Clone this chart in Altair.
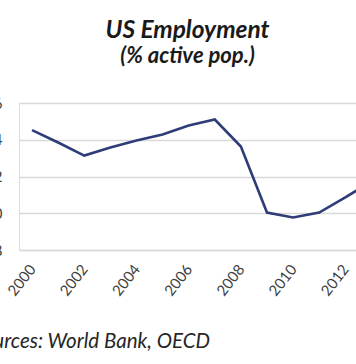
import altair as alt
import pandas as pd

years = [2000, 2001, 2002, 2003, 2004, 2005, 2006, 2007, 2008, 2009, 2010, 2011, 2012, 2013]
employment = [94.52, 93.85, 93.14, 93.58, 93.96, 94.29, 94.78, 95.10, 93.63, 90.04, 89.77, 90.04, 90.86, 91.73]
y_ticks = [88, 90, 92, 94, 96]
x_ticks = [2000, 2002, 2004, 2006, 2008, 2010, 2012]
source_text = ["Sources: World Bank, OECD"]

df = pd.DataFrame({"year": years, "value": employment})
src = pd.DataFrame({"label": source_text})

W, H = 337, 147
FONT = "Lato"
GRID = "#d9d9d9"

line = alt.Chart(df).mark_line(color="#2e3d78", strokeWidth=2.6, clip=True).encode(
    x=alt.X("year:Q",
            scale=alt.Scale(domain=[1999.5, 2012.41], nice=False, zero=False),
            axis=alt.Axis(values=x_ticks, format="d", title=None, grid=False,
                          ticks=False, domain=True, domainColor=GRID, domainWidth=1.5,
                          labelAngle=-52, labelFont=FONT, labelFontSize=15,
                          labelColor="#404040", labelPadding=16)),
    y=alt.Y("value:Q",
            scale=alt.Scale(domain=[88, 96], nice=False, zero=False),
            axis=alt.Axis(values=y_ticks, title=None, grid=True, gridColor=GRID,
                          gridWidth=1.5, ticks=False, domain=False, labelFont=FONT,
                          labelFontSize=15, labelColor="#404040", labelPadding=17)),
)

source = alt.Chart(src).mark_text(
    align="right", baseline="alphabetic", font=FONT, fontStyle="italic",
    fontSize=20.5, color="#262626"
).encode(text="label:N", x=alt.value(191), y=alt.value(245))

chart = alt.layer(line, source).properties(
    width=W, height=H,
    title=alt.TitleParams(
        text="US Employment", subtitle="(% active pop.)",
        anchor="middle", frame="group", font=FONT, fontSize=24.5,
        fontWeight="bold", fontStyle="italic", color="#1a1a1a",
        subtitleFont=FONT, subtitleFontSize=22, subtitleFontWeight="bold",
        subtitleFontStyle="italic", subtitleColor="#1a1a1a",
        subtitlePadding=3, offset=28),
    autosize=alt.AutoSizeParams(type="none"),
    padding={"left": 19, "top": 103, "right": 0, "bottom": 114},
).configure_view(stroke=None).configure(background="white")

chart.save("out.html", embed_options={"renderer": "svg", "actions": False})
